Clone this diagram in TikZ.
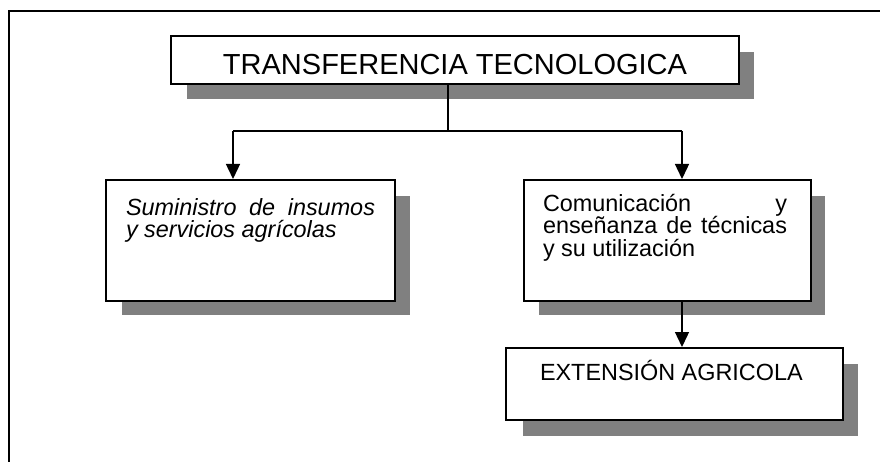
\documentclass[tikz,border=0pt]{standalone}
\usepackage{fontspec}
\setmainfont{Liberation Sans}
\usetikzlibrary{arrows.meta}
\definecolor{shadowgray}{HTML}{808080}
\tikzset{
  shadowfill/.style={fill=shadowgray},
  box/.style={draw=black, line width=1.8pt, fill=white, anchor=north west, inner sep=0pt},
  conn/.style={line width=1.4pt},
  arr/.style={conn, -{Triangle[width=14pt,length=15pt]}},
  txt/.style={inner sep=0pt, outer sep=0pt, anchor=base west, text height=16pt, text depth=4.5pt, font=\fontsize{23.4}{22}\selectfont},
  ttl/.style={inner sep=0pt, anchor=base, font=\fontsize{29}{32}\selectfont}
}
\begin{document}
\begin{tikzpicture}[x=1pt,y=-1pt]
\useasboundingbox (0,0) rectangle (880,462);
\clip (0,0) rectangle (880,462);
\fill[white] (0,0) rectangle (880,462);
% outer frame (extends beyond the picture)
\draw[line width=1.5pt] (9,11) rectangle (900,490);
% shadows
\fill[shadowfill] (187,52) rectangle (754,99);
\fill[shadowfill] (122,196) rectangle (410,315);
\fill[shadowfill] (539,196) rectangle (825,315);
\fill[shadowfill] (523,364) rectangle (858,436);
% boxes
\node[box, minimum width=568pt, minimum height=48pt] (title) at (170,35) {};
\node[box, minimum width=289pt, minimum height=121pt] (left) at (105,179) {};
\node[box, minimum width=287pt, minimum height=121pt] (right) at (523,179) {};
\node[box, minimum width=337pt, minimum height=72pt] (ext) at (505,347) {};
% texts
\node[ttl] (ttext) at (455,75) {TRANSFERENCIA TECNOLOGICA};
\node[txt] (l1) at (126,216) {\itshape\makebox[249pt][s]{Suministro de insumos}};
\node[txt] (l2) at (126,237.5) {\itshape y servicios agrícolas};
\node[txt] (r1) at (543,212) {\makebox[244pt][s]{Comunicación\hfill y}};
\node[txt] (r2) at (543,234) {\makebox[244pt][s]{enseñanza de técnicas}};
\node[txt] (r3) at (543,256) {y su utilización};
\node[txt] (e1) at (540,380) {EXTENSIÓN AGRICOLA};
% connectors
\coordinate (split) at (448,131);
\coordinate (jl) at (233,131);
\coordinate (jr) at (682,131);
\draw[conn] (title.south -| split) -- (split);
\draw[conn] (jl) -- (jr);
\draw[arr] (jl) -- (jl |- left.north);
\draw[arr] (jr) -- (jr |- right.north);
\draw[arr] (jr |- right.south) -- (jr |- ext.north);
\end{tikzpicture}
\end{document}
